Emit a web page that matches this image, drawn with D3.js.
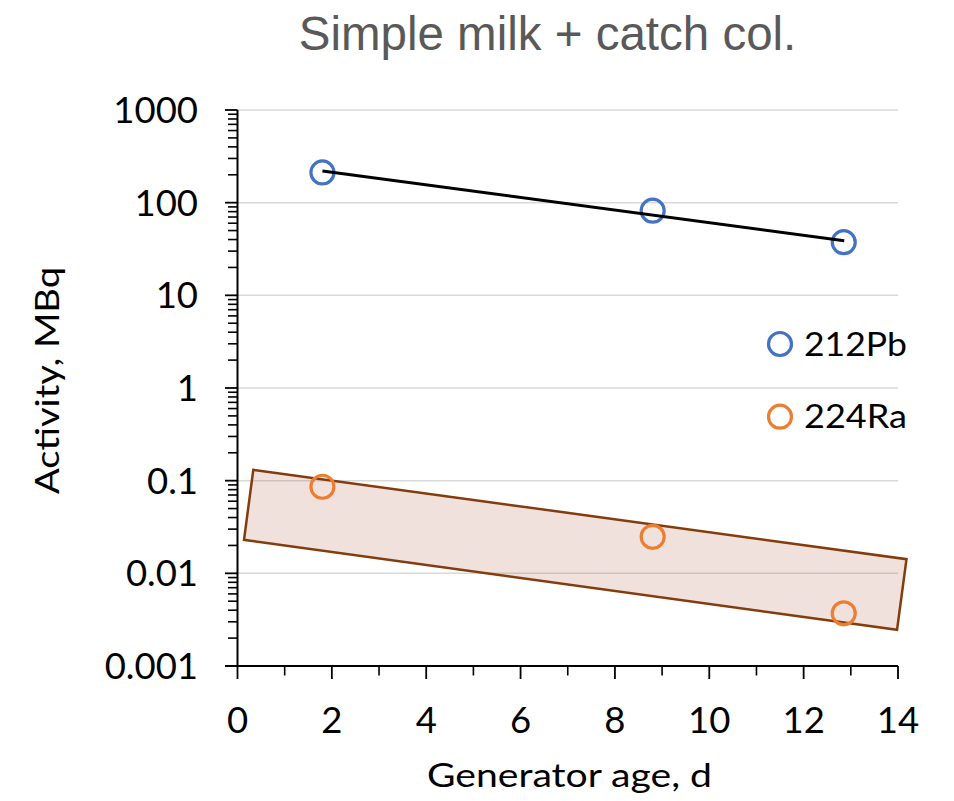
<!DOCTYPE html>
<html><head><meta charset="utf-8">
<script src="https://cdn.jsdelivr.net/npm/d3@7"></script>
<style>body{margin:0;background:#fff}svg{display:block}</style>
</head><body>
<svg id="c" width="954" height="801"></svg>
<script>
// ---- data ----
const title = "Simple milk + catch col.";
const xLabel = "Generator age, d";
const yLabel = "Activity, MBq";
const xTicks = [0, 2, 4, 6, 8, 10, 12, 14];
const yTicks = [0.001, 0.01, 0.1, 1, 10, 100, 1000];
const yTickLabels = ["0.001", "0.01", "0.1", "1", "10", "100", "1000"];
const seriesNames = ["212Pb", "224Ra"];
const pbAge = [1.8, 8.8, 12.85];
const pbAct = [212, 82, 37.5];
const raAge = [1.8, 8.8, 12.85];
const raAct = [0.086, 0.0248, 0.0037];
const fitAge = [1.8, 12.86];
const fitAct = [220, 38.9];
const bandAge = [0.335, 14.18, 13.98, 0.138];
const bandAct = [0.131, 0.01422, 0.00246, 0.0230];

// ---- layout ----
const svg = d3.select("#c");
const L = 237.5, R = 898, T = 110, B = 666;
const x = d3.scaleLinear().domain([0, 14]).range([L, R]);
const y = d3.scaleLog().domain([0.001, 1000]).range([B, T]);
const blue = "#4472c4", orange = "#ed7d31";

// gridlines
svg.append("g").selectAll("line").data(yTicks.slice(1)).join("line")
  .attr("x1", L).attr("x2", R).attr("y1", d => y(d)).attr("y2", d => y(d))
  .attr("stroke", "#d9d9d9").attr("stroke-width", 1.5);

// band
svg.append("path")
  .attr("d", d3.line().x(d => x(d[0])).y(d => y(d[1]))(bandAge.map((a, i) => [a, bandAct[i]])) + "Z")
  .attr("fill", "#a0422a").attr("fill-opacity", 0.16)
  .attr("stroke", "#843c0c").attr("stroke-width", 2.5).attr("stroke-linejoin", "miter");

// minor y ticks
const minor = [];
for (let e = -3; e < 3; e++) for (let m = 2; m <= 9; m++) minor.push(m * Math.pow(10, e));
svg.append("g").selectAll("line").data(minor).join("line")
  .attr("x1", L - 9.5).attr("x2", L).attr("y1", d => y(d)).attr("y2", d => y(d))
  .attr("stroke", "#000").attr("stroke-width", 1.6);
// major y ticks
svg.append("g").selectAll("line").data(yTicks).join("line")
  .attr("x1", L - 12.5).attr("x2", L).attr("y1", d => y(d)).attr("y2", d => y(d))
  .attr("stroke", "#000").attr("stroke-width", 1.8);
// x ticks
const xMinor = [1, 3, 5, 7, 9, 11, 13];
svg.append("g").selectAll("line").data(xMinor).join("line")
  .attr("x1", d => x(d)).attr("x2", d => x(d)).attr("y1", B).attr("y2", B + 9.5)
  .attr("stroke", "#000").attr("stroke-width", 1.6);
svg.append("g").selectAll("line").data(xTicks).join("line")
  .attr("x1", d => x(d)).attr("x2", d => x(d)).attr("y1", B).attr("y2", B + 13)
  .attr("stroke", "#000").attr("stroke-width", 1.8);
// axis lines
svg.append("line").attr("x1", L).attr("x2", L).attr("y1", T).attr("y2", B)
  .attr("stroke", "#000").attr("stroke-width", 2);
svg.append("line").attr("x1", L - 12.5).attr("x2", R).attr("y1", B).attr("y2", B)
  .attr("stroke", "#000").attr("stroke-width", 2);

// tick labels
const tickFont = "Lato, 'Open Sans', sans-serif";
svg.append("g").selectAll("text").data(yTicks).join("text")
  .attr("x", 198).attr("y", d => y(d) + 13)
  .attr("text-anchor", "end").attr("font-family", tickFont).attr("font-size", 36.5)
  .attr("fill", "#000").text((d, i) => yTickLabels[i]);
svg.append("g").selectAll("text").data(xTicks).join("text")
  .attr("x", d => x(d)).attr("y", 733)
  .attr("text-anchor", "middle").attr("font-family", tickFont).attr("font-size", 36.5)
  .attr("fill", "#000").text(d => d);

// markers
function markers(ax, ay, col) {
  svg.append("g").selectAll("circle").data(ax.map((a, i) => [a, ay[i]])).join("circle")
    .attr("cx", d => x(d[0])).attr("cy", d => y(d[1])).attr("r", 11.5)
    .attr("fill", "none").attr("stroke", col).attr("stroke-width", 3.2);
}
markers(pbAge, pbAct, blue);
markers(raAge, raAct, orange);

// fit line
svg.append("path")
  .attr("d", d3.line().x(d => x(d[0])).y(d => y(d[1]))(fitAge.map((a, i) => [a, fitAct[i]])))
  .attr("stroke", "#000").attr("stroke-width", 3).attr("fill", "none");

// legend
const legY = [344, 416.7];
const legCol = [blue, orange];
seriesNames.forEach((n, i) => {
  svg.append("circle").attr("cx", 780).attr("cy", legY[i]).attr("r", 11.5)
    .attr("fill", "none").attr("stroke", legCol[i]).attr("stroke-width", 3.2);
  svg.append("text").attr("x", 804).attr("y", legY[i] + 11.5)
    .attr("font-family", tickFont).attr("font-size", 32)
    .attr("textLength", 103).attr("lengthAdjust", "spacingAndGlyphs")
    .attr("fill", "#000").text(n);
});

// titles
svg.append("text").attr("x", 547.5).attr("y", 50).attr("text-anchor", "middle")
  .attr("font-family", "'Liberation Sans', Arial, sans-serif").attr("font-size", 47.5)
  .attr("fill", "#595959").text(title);
svg.append("text").attr("x", 427).attr("y", 787)
  .attr("font-family", tickFont).attr("font-size", 33)
  .attr("textLength", 285).attr("lengthAdjust", "spacingAndGlyphs")
  .attr("fill", "#000").text(xLabel);
svg.append("text").attr("transform", "translate(59,494) rotate(-90)")
  .attr("font-family", tickFont).attr("font-size", 33)
  .attr("textLength", 227).attr("lengthAdjust", "spacingAndGlyphs")
  .attr("fill", "#000").text(yLabel);
</script>
</body></html>
